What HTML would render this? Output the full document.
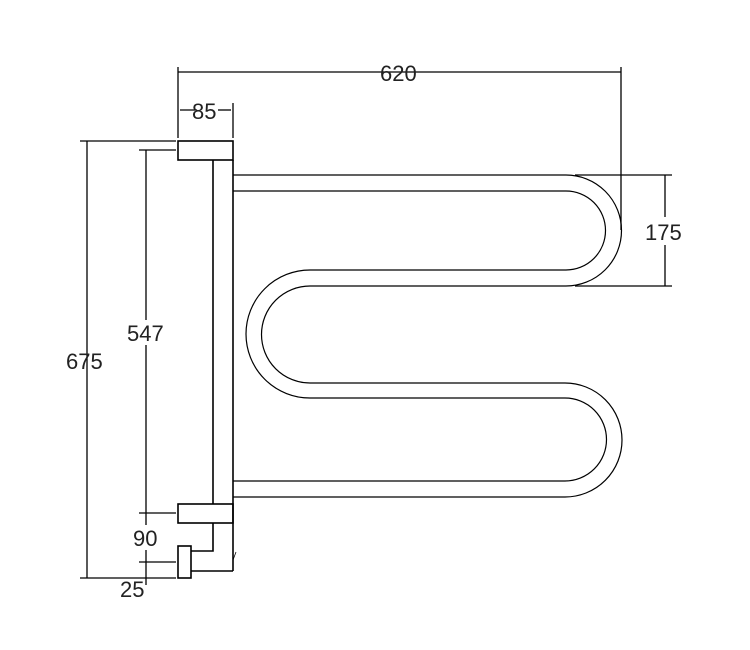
<!DOCTYPE html>
<html><head><style>body{margin:0;background:#fff}svg{display:block}text{font-family:"Liberation Sans",sans-serif;font-size:22px;fill:#222}</style></head>
<body>
<svg width="750" height="650" viewBox="0 0 750 650" xmlns="http://www.w3.org/2000/svg">
<g fill="none" stroke="#000" stroke-width="1.6">
<rect x="178" y="141" width="55" height="19"/>
<line x1="213" y1="160" x2="213" y2="504"/>
<line x1="233" y1="160" x2="233" y2="571"/>
<rect x="178" y="504" width="55" height="19"/>
<rect x="178" y="546" width="13" height="32"/>
<polyline points="213,523 213,551 191,551"/>
<line x1="191" y1="571" x2="233" y2="571"/>
</g>
<g fill="none" stroke="#000" stroke-width="1.2">
<path d="M233,175 H566 A55.5,55.5 0 0 1 566,286 H310 A48.5,48.5 0 0 0 310,383 H565 A57,57 0 0 1 565,497 H233"/>
<path d="M233,191 H566 A39.5,39.5 0 0 1 566,270 H310 A64,64 0 0 0 310,398 H565 A41.5,41.5 0 0 1 565,481 H233"/>
</g>
<g fill="none" stroke="#000" stroke-width="1.3">
<line x1="178" y1="72" x2="621" y2="72"/>
<line x1="178" y1="67" x2="178" y2="138"/>
<line x1="621" y1="67" x2="621" y2="230"/>
<line x1="180" y1="110" x2="197" y2="110"/>
<line x1="218" y1="110" x2="231" y2="110"/>
<line x1="233" y1="103" x2="233" y2="138"/>
<line x1="665" y1="175" x2="665" y2="217"/>
<line x1="665" y1="245" x2="665" y2="286"/>
<line x1="575" y1="175" x2="672" y2="175"/>
<line x1="575" y1="286" x2="672" y2="286"/>
<line x1="80" y1="141" x2="176" y2="141"/>
<line x1="139" y1="150" x2="176" y2="150"/>
<line x1="87" y1="141" x2="87" y2="578"/>
<line x1="146" y1="150" x2="146" y2="320"/>
<line x1="146" y1="345" x2="146" y2="525"/>
<line x1="146" y1="550" x2="146" y2="585"/>
<line x1="139" y1="513" x2="176" y2="513"/>
<line x1="139" y1="562" x2="176" y2="562"/>
<line x1="80" y1="578" x2="176" y2="578"/>
<line x1="236" y1="552" x2="233" y2="560" stroke-width="0.8"/>
</g>
<text x="380" y="81">620</text>
<text x="192" y="119">85</text>
<text x="645" y="240">175</text>
<text x="66" y="369">675</text>
<text x="127" y="341">547</text>
<text x="133" y="546">90</text>
<text x="120" y="597">25</text>
</svg>
</body></html>
